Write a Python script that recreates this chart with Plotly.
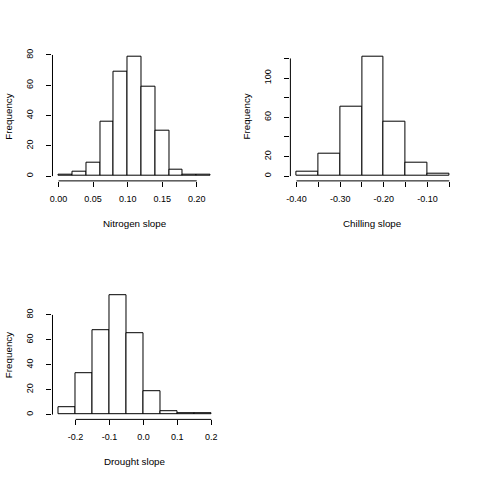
import plotly.graph_objects as go

# ---- data ----
nitrogen_edges = [0.00, 0.02, 0.04, 0.06, 0.08, 0.10, 0.12, 0.14, 0.16, 0.18, 0.20, 0.22]
nitrogen_counts = [1, 3, 9, 36, 69, 79, 59, 30, 4, 1, 1]
nitrogen_xticks = [0.00, 0.05, 0.10, 0.15, 0.20]
nitrogen_xlabels = ["0.00", "0.05", "0.10", "0.15", "0.20"]
nitrogen_yticks = [0, 20, 40, 60, 80]
nitrogen_ylabels = ["0", "20", "40", "60", "80"]

chilling_edges = [-0.40, -0.35, -0.30, -0.25, -0.20, -0.15, -0.10, -0.05]
chilling_counts = [4, 23, 71, 122, 56, 14, 2]
chilling_xticks = [-0.40, -0.35, -0.30, -0.25, -0.20, -0.15, -0.10, -0.05]
chilling_xlabels = ["-0.40", "", "-0.30", "", "-0.20", "", "-0.10", ""]
chilling_yticks = [0, 20, 40, 60, 80, 100, 120]
chilling_ylabels = ["0", "20", "", "60", "", "100", ""]

drought_edges = [-0.25, -0.20, -0.15, -0.10, -0.05, 0.00, 0.05, 0.10, 0.15, 0.20]
drought_counts = [6, 33, 68, 96, 65, 19, 3, 1, 1]
drought_xticks = [-0.2, -0.1, 0.0, 0.1, 0.2]
drought_xlabels = ["-0.2", "-0.1", "0.0", "0.1", "0.2"]
drought_yticks = [0, 20, 40, 60, 80]
drought_ylabels = ["0", "20", "40", "60", "80"]

panels = [
    dict(edges=nitrogen_edges, counts=nitrogen_counts, xt=nitrogen_xticks, xl=nitrogen_xlabels,
         yt=nitrogen_yticks, yl=nitrogen_ylabels, title="Nitrogen slope",
         px=(48.9, 214.4), py=(49, 179)),
    dict(edges=chilling_edges, counts=chilling_counts, xt=chilling_xticks, xl=chilling_xlabels,
         yt=chilling_yticks, yl=chilling_ylabels, title="Chilling slope",
         px=(288.8, 455.2), py=(49, 179)),
    dict(edges=drought_edges, counts=drought_counts, xt=drought_xticks, xl=drought_xlabels,
         yt=drought_yticks, yl=drought_ylabels, title="Drought slope",
         px=(48.9, 215.2), py=(289, 419)),
]

W = H = 480
FONT = "Liberation Sans, Arial, sans-serif"
FS_TICK = 9
FS_TITLE = 9.8
fig = go.Figure()
shapes = []
annotations = []

for i, p in enumerate(panels, start=1):
    xa = "x" if i == 1 else f"x{i}"
    ya = "y" if i == 1 else f"y{i}"
    e = p["edges"]
    centers = [(a + b) / 2 for a, b in zip(e[:-1], e[1:])]
    widths = [b - a for a, b in zip(e[:-1], e[1:])]
    fig.add_trace(go.Bar(x=centers, y=p["counts"], width=widths, xaxis=xa, yaxis=ya,
                         marker=dict(color="white", line=dict(color="black", width=1)),
                         showlegend=False, hoverinfo="skip"))
    lo, hi = e[0], e[-1]
    pad = 0.04 * (hi - lo)
    ymax = max(p["counts"])
    xdom = [p["px"][0] / W, p["px"][1] / W]
    ydom = [1 - p["py"][1] / H, 1 - p["py"][0] / H]
    common = dict(showgrid=False, zeroline=False, showline=False, ticks="outside", ticklen=5,
                  tickwidth=1, tickcolor="black",
                  tickfont=dict(family=FONT, size=FS_TICK, color="black"),
                  tickmode="array")
    fig.update_layout(**{
        ("xaxis" if i == 1 else f"xaxis{i}"): dict(domain=xdom, range=[lo - pad, hi + pad],
                                                  anchor=ya, tickvals=p["xt"], ticktext=p["xl"],
                                                  ticklabelstandoff=4, **common),
        ("yaxis" if i == 1 else f"yaxis{i}"): dict(domain=ydom, range=[-0.04 * ymax, 1.04 * ymax],
                                                  anchor=xa, tickvals=p["yt"], ticktext=p["yl"],
                                                  tickangle=-90, ticklabelstandoff=10, **common),
    })
    # R-style axis lines spanning first to last tick
    shapes.append(dict(type="line", xref=xa, yref=f"{ya} domain", x0=p["xt"][0], x1=p["xt"][-1],
                       y0=0, y1=0, line=dict(color="black", width=1)))
    shapes.append(dict(type="line", xref=f"{xa} domain", yref=ya, x0=0, x1=0,
                       y0=p["yt"][0], y1=p["yt"][-1], line=dict(color="black", width=1)))
    # axis titles
    annotations.append(dict(text=p["title"], xref="paper", yref="paper",
                            x=(p["px"][0] + p["px"][1]) / 2 / W, y=1 - (p["py"][1] + 42.7) / H,
                            xanchor="center", yanchor="middle", showarrow=False,
                            font=dict(family=FONT, size=FS_TITLE, color="black")))
    annotations.append(dict(text="Frequency", xref="paper", yref="paper",
                            x=(p["px"][0] - 44.5) / W, y=1 - (p["py"][0] + p["py"][1]) / 2 / H,
                            xanchor="center", yanchor="middle", textangle=-90, showarrow=False,
                            font=dict(family=FONT, size=FS_TITLE, color="black")))

fig.update_layout(width=W, height=H, margin=dict(l=0, r=0, t=0, b=0),
                  paper_bgcolor="white", plot_bgcolor="white", bargap=0,
                  shapes=shapes, annotations=annotations)
fig.write_html("out.html")
